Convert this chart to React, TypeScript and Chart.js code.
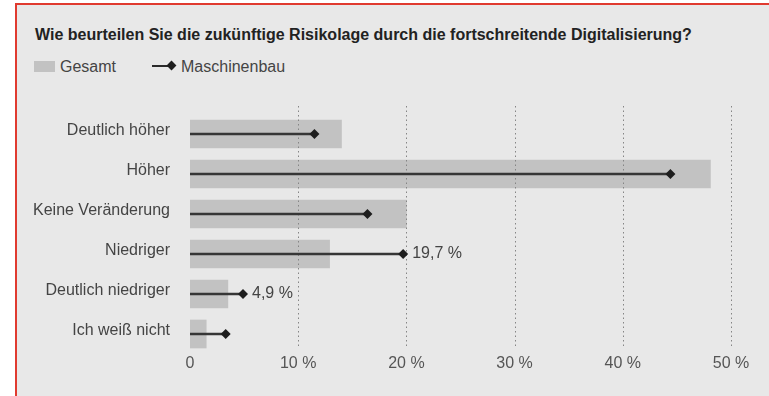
import React, { useEffect, useRef } from "react";
import { Chart, registerables } from "chart.js";

Chart.register(...registerables);

const titleText = "Wie beurteilen Sie die zukünftige Risikolage durch die fortschreitende Digitalisierung?";
const seriesNames = ["Gesamt", "Maschinenbau"];
const categories = ["Deutlich höher", "Höher", "Keine Veränderung", "Niedriger", "Deutlich niedriger", "Ich weiß nicht"];
const gesamt = [14.0, 48.1, 20.0, 12.9, 3.5, 1.5];
const maschinenbau = [11.5, 44.4, 16.4, 19.7, 4.9, 3.3];
const valueLabels = ["", "", "", "19,7 %", "4,9 %", ""];
const xTickValues = [0, 10, 20, 30, 40, 50];

const FONT = "'Liberation Sans', Arial, Helvetica, sans-serif";

const valueLabelPlugin = {
  id: "valueLabels",
  afterDatasetDraw(chart: any, args: any) {
    if (args.index !== 0) return;
    // dotted vertical grid lines, drawn over the Gesamt bars
    const xs = chart.scales.x;
    const area = chart.chartArea;
    const ctx = chart.ctx;
    ctx.save();
    ctx.strokeStyle = "#858585";
    ctx.lineWidth = 1;
    ctx.setLineDash([1.5, 3]);
    xTickValues.forEach((v) => {
      if (v === 0) return;
      const x = Math.round(xs.getPixelForValue(v)) + 0.5;
      ctx.beginPath();
      ctx.moveTo(x, area.top - 8);
      ctx.lineTo(x, area.bottom - 7);
      ctx.stroke();
    });
    ctx.restore();
  },
  afterDatasetsDraw(chart: any) {
    const meta = chart.getDatasetMeta(2);
    const ctx = chart.ctx;
    ctx.save();
    ctx.font = `16px ${FONT}`;
    ctx.fillStyle = "#444";
    ctx.textBaseline = "middle";
    ctx.textAlign = "left";
    meta.data.forEach((pt: any, i: number) => {
      if (valueLabels[i]) ctx.fillText(valueLabels[i], pt.x + 9, pt.y);
    });
    ctx.restore();
  },
};

export default function App() {
  const ref = useRef<HTMLCanvasElement>(null);
  useEffect(() => {
    if (!ref.current) return;
    const chart = new Chart(ref.current, {
      type: "bar",
      data: {
        labels: categories,
        datasets: [
          {
            type: "bar",
            label: seriesNames[0],
            data: gesamt,
            backgroundColor: "#c2c2c2",
            barThickness: 28,
            grouped: false,
            order: 3,
          } as any,
          {
            type: "bar",
            label: seriesNames[1] + " stem",
            data: maschinenbau,
            backgroundColor: "#363636",
            barThickness: 2,
            grouped: false,
            order: 2,
          } as any,
          {
            type: "line",
            label: seriesNames[1],
            data: maschinenbau,
            indexAxis: "y",
            showLine: false,
            pointStyle: "rectRot",
            pointRadius: 5,
            pointBackgroundColor: "#1e1e1e",
            pointBorderColor: "#1e1e1e",
            pointBorderWidth: 0,
            order: 1,
          } as any,
        ],
      },
      options: {
        indexAxis: "y",
        animation: false,
        responsive: false,
        maintainAspectRatio: false,
        layout: { padding: { left: 0, right: 38, top: 114, bottom: 0 } },
        plugins: { legend: { display: false }, title: { display: false }, tooltip: { enabled: false } },
        scales: {
          x: {
            type: "linear",
            min: 0,
            max: 50,
            afterBuildTicks: (scale: any) => {
              scale.ticks = xTickValues.map((v) => ({ value: v }));
            },
            afterFit: (scale: any) => {
              scale.height = 42;
            },
            grid: { display: false, drawTicks: false },
            border: { display: false },
            ticks: {
              padding: 0,
              color: "#555",
              font: { size: 16, family: FONT },
              maxRotation: 0,
              callback: (v: any) => (v === 0 ? "0" : `${v} %`),
            },
          },
          y: {
            type: "category",
            afterFit: (scale: any) => {
              scale.width = 190;
            },
            grid: { display: false, drawTicks: false },
            border: { display: false },
            ticks: {
              padding: 20,
              labelOffset: -3,
              color: "#444",
              font: { size: 16, family: FONT },
            },
          },
        },
      } as any,
      plugins: [valueLabelPlugin],
    });
    return () => chart.destroy();
  }, []);

  return (
    <div style={{ position: "absolute", left: 0, top: 0, width: 769, height: 396, background: "#fff", overflow: "hidden", fontFamily: FONT }}>
      <div style={{ position: "absolute", left: 15, top: 3, width: 754, height: 393, background: "#e8e8e8", borderLeft: "2px solid #e03a2f", borderTop: "2px solid #e03a2f", boxSizing: "border-box" }} />
      <div style={{ position: "absolute", left: 35, top: 27, fontSize: 16, fontWeight: "bold", color: "#222", whiteSpace: "nowrap", lineHeight: "16px" }}>{titleText}</div>
      <div style={{ position: "absolute", left: 34, top: 61, width: 21, height: 11, background: "#c2c2c2" }} />
      <div style={{ position: "absolute", left: 60, top: 59, fontSize: 16, color: "#444", lineHeight: "16px" }}>{seriesNames[0]}</div>
      <div style={{ position: "absolute", left: 152, top: 65, width: 17, height: 2, background: "#2a2a2a" }} />
      <div style={{ position: "absolute", left: 168, top: 62, width: 7, height: 7, background: "#1e1e1e", transform: "rotate(45deg)" }} />
      <div style={{ position: "absolute", left: 181, top: 59, fontSize: 16, color: "#444", lineHeight: "16px" }}>{seriesNames[1]}</div>
      <canvas ref={ref} width={769} height={396} style={{ position: "absolute", left: 0, top: 0, width: 769, height: 396 }} />
    </div>
  );
}
